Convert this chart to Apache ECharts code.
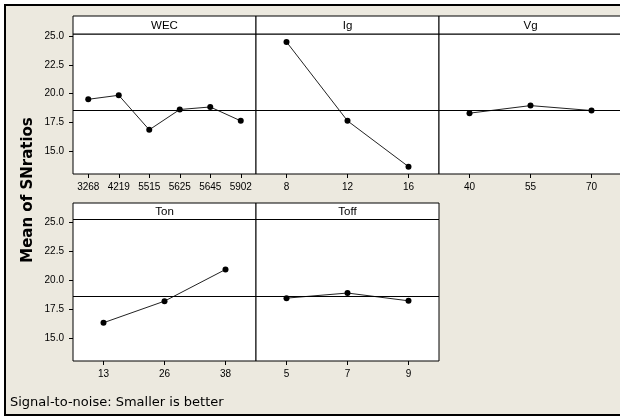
<!DOCTYPE html>
<html>
<head>
<meta charset="utf-8">
<script src="https://cdn.jsdelivr.net/npm/echarts@6/dist/echarts.min.js"></script>
<style>
  html, body { margin: 0; padding: 0; background: #fff; }
  #main { width: 620px; height: 417px; }
</style>
</head>
<body>
<div id="main"></div>
<script>
// main effects plot for SN ratios
const wecCats = ['3268', '4219', '5515', '5625', '5645', '5902'];
const wecVals = [19.51, 19.86, 16.85, 18.62, 18.84, 17.63];
const igCats = ['8', '12', '16'];
const igVals = [24.51, 17.63, 13.64];
const vgCats = ['40', '55', '70'];
const vgVals = [18.30, 18.96, 18.53];
const tonCats = ['13', '26', '38'];
const tonVals = [16.30, 18.16, 20.89];
const toffCats = ['5', '7', '9'];
const toffVals = [18.42, 18.86, 18.19];
const grandMean = 18.55;
const yTicks = [15, 17.5, 20, 22.5, 25];

const panels = [
  { name: 'WEC', cats: wecCats, vals: wecVals, row: 0, col: 0 },
  { name: 'Ig', cats: igCats, vals: igVals, row: 0, col: 1 },
  { name: 'Vg', cats: vgCats, vals: vgVals, row: 0, col: 2 },
  { name: 'Ton', cats: tonCats, vals: tonVals, row: 1, col: 0 },
  { name: 'Toff', cats: toffCats, vals: toffVals, row: 1, col: 1 }
];

// panel geometry (third column runs off the right edge)
const colX = [73, 256, 439, 622];
const rows = [
  { top: 16, strip: 34, bottom: 174 },
  { top: 203, strip: 219.5, bottom: 361 }
];
const font = 'Liberation Sans';

let myChart = echarts.init(document.getElementById('main'));

let grids = [], xAxes = [], yAxes = [], series = [];
let graphics = [
  // beige background + frame (no right edge)
  { type: 'rect', shape: { x: 5, y: 5, width: 640, height: 410 },
    style: { fill: '#ECE9DF', stroke: '#000', lineWidth: 2 }, z: -10 },
  { type: 'text', x: 28, y: 190, rotation: Math.PI / 2,
    style: { text: 'Mean of SNratios', font: 'bold 15px "DejaVu Sans"', fill: '#000',
      align: 'center', verticalAlign: 'middle' } },
  { type: 'text', x: 10, y: 403,
    style: { text: 'Signal-to-noise: Smaller is better', font: '13px "DejaVu Sans"', fill: '#000',
      align: 'left', verticalAlign: 'middle' } }
];

panels.forEach((p, i) => {
  let r = rows[p.row];
  let x0 = colX[p.col], x1 = colX[p.col + 1];
  grids.push({
    left: x0, top: r.strip, width: x1 - x0, height: r.bottom - r.strip,
    outerBoundsMode: 'none', containLabel: false,
    show: true, backgroundColor: '#fff', borderColor: '#000', borderWidth: 1
  });
  xAxes.push({
    type: 'category', gridIndex: i, data: p.cats, boundaryGap: true,
    axisLine: { show: false },
    axisTick: { show: true, alignWithLabel: true, length: 4, lineStyle: { color: '#000' } },
    axisLabel: { color: '#000', fontSize: 10, fontFamily: font, margin: 8 },
    splitLine: { show: false }
  });
  yAxes.push({
    type: 'value', gridIndex: i, min: 13, max: 25.2,
    axisLine: { show: false },
    axisTick: { show: p.col === 0, length: 4, customValues: yTicks, lineStyle: { color: '#000' } },
    axisLabel: { show: p.col === 0, customValues: yTicks, color: '#000', fontSize: 10,
      fontFamily: font, margin: 9, formatter: (v) => v.toFixed(1) },
    splitLine: { show: false }
  });
  series.push({
    type: 'line', xAxisIndex: i, yAxisIndex: i, data: p.vals,
    symbol: 'circle', symbolSize: 6,
    lineStyle: { color: '#222', width: 1 },
    itemStyle: { color: '#000' },
    markLine: {
      silent: true, symbol: ['none', 'none'], label: { show: false },
      lineStyle: { color: '#000', width: 1, type: 'solid' },
      data: [{ yAxis: grandMean }]
    }
  });
  // strip with factor name
  graphics.push({
    type: 'rect', shape: { x: x0, y: r.top, width: x1 - x0, height: r.strip - r.top },
    style: { fill: '#fff', stroke: '#000', lineWidth: 1 }
  });
  graphics.push({
    type: 'text', x: (x0 + x1) / 2, y: (r.top + r.strip) / 2 + 1,
    style: { text: p.name, font: '11.5px "Liberation Sans"', fill: '#000',
      align: 'center', verticalAlign: 'middle' }
  });
});

let option = {
  animation: false,
  backgroundColor: '#fff',
  grid: grids,
  xAxis: xAxes,
  yAxis: yAxes,
  series: series,
  graphic: graphics
};

myChart.setOption(option);
</script>
</body>
</html>
